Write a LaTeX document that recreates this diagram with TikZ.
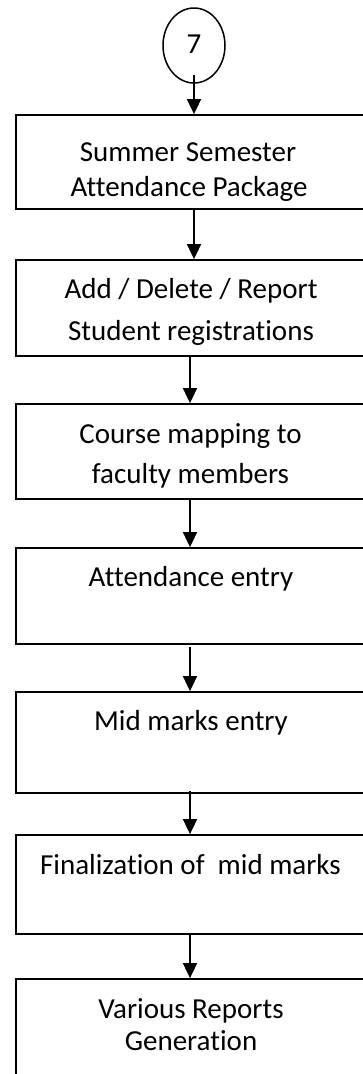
\documentclass[tikz,border=0pt]{standalone}
\usepackage{fontspec}
\setmainfont{Carlito}[Ligatures=NoCommon]
\usetikzlibrary{arrows.meta,shapes.geometric}
\begin{document}
\begin{tikzpicture}[x=1pt,y=-1pt,
 boxst/.style={draw=black, line width=1.8pt, rectangle, minimum width=348pt, inner sep=0pt},
 txt/.style={font=\fontsize{29}{35}\selectfont, anchor=base, inner sep=0pt},
 conn/.style={draw=black, line width=1.8pt, -{Triangle[length=15pt,width=14pt]}},
 oval/.style={draw=black, line width=1.5pt, ellipse, minimum width=62pt, minimum height=75pt, inner sep=0pt}]
\useasboundingbox (0,0) rectangle (363,1074);
\clip (0,0) rectangle (363,1074);
% oval connector
\node[oval] (e) at (194,45.5) {};
\node[txt] (te) at (194,53) {7};
% boxes
\node[boxst, minimum height=94pt] (b1) at (190,162) {};
\node[boxst, minimum height=96pt] (b2) at (190,308) {};
\node[boxst, minimum height=95pt] (b3) at (190,451.5) {};
\node[boxst, minimum height=96pt] (b4) at (190,596) {};
\node[boxst, minimum height=101pt] (b5) at (190,742.5) {};
\node[boxst, minimum height=99pt] (b6) at (190,884.5) {};
\node[boxst, minimum height=110pt] (b7) at (190,1034) {};
% texts
\node[txt] (t1a) at (188,161) {Summer Semester};
\node[txt] (t1b) at (189,196) {Attendance Package};
\node[txt] (t2a) at (191,298) {Add / Delete / Report};
\node[txt] (t2b) at (191,340) {Student registrations};
\node[txt] (t3a) at (190.5,443) {Course mapping to};
\node[txt] (t3b) at (190.5,483) {faculty members};
\node[txt] (t4) at (191,586) {Attendance entry};
\node[txt] (t5) at (191,730) {Mid marks entry};
\node[txt] (t6) at (190.5,874) {Finalization of\ \ mid marks};
\node[txt] (t7a) at (191,1018) {Various Reports};
\node[txt] (t7b) at (191,1050) {Generation};
% connectors
\draw[conn] ([yshift=9pt]e.south) -- (e.south |- b1.north);
\draw[conn] ([xshift=4pt]b1.south) -- ([xshift=4pt]b2.north);
\draw[conn] (b2.south) -- (b3.north);
\draw[conn] (b3.south) -- (b4.north);
\draw[conn] ([yshift=-2pt]b4.south) -- (b5.north);
\draw[conn] ([yshift=3pt]b5.south) -- (b6.north);
\draw[conn] (b6.south) -- (b7.north);
\end{tikzpicture}
\end{document}
